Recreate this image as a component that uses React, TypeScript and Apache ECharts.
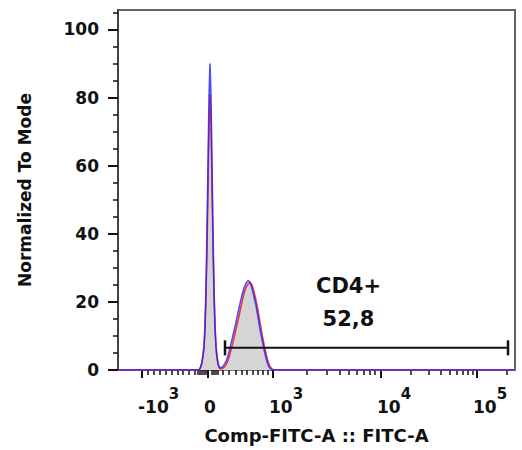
import { useEffect, useRef } from 'react';
import * as echarts from 'echarts';

// Display-channel positions (biexponential axis, 0..397 display units)
const X = [0, 81, 82, 83, 84, 85, 86, 87, 88, 89, 90, 91, 92, 93, 94, 95, 96, 97, 98, 99, 100, 101, 102,
  104, 106, 108, 110, 112, 114, 116, 118, 120, 122, 124, 126, 128, 130, 132, 134, 136, 138, 140, 142,
  144, 146, 148, 150, 152, 154, 156, 158, 397];

const GRAY = [0, 0, 0.4, 1, 2.2, 4, 6.5, 12, 22, 36, 54, 71, 80, 72, 54, 36, 22, 12.5, 6.5, 3.5, 1.8, 0.8, 0.4,
  0.4, 0.8, 1.5, 2.8, 4.8, 7, 9.5, 12, 14.5, 17.2, 20, 22.5, 24.2, 25.2, 25.5, 24.8, 22.8, 20.3, 17.3, 14,
  10.5, 7.5, 4.8, 2.5, 1, 0.3, 0, 0, 0];

const RED = [0, 0, 0.4, 1, 2.2, 4, 6.5, 12, 22, 36, 54, 72, 81, 73, 55, 37, 22, 12.5, 6.5, 3.5, 1.8, 0.8, 0.4,
  0.4, 0.8, 1.5, 2.8, 4.8, 7, 9.5, 12, 14.5, 17.2, 20, 22.5, 24.3, 25.3, 25.7, 25, 23, 20.5, 17.5, 14,
  10.5, 7.5, 4.8, 2.5, 1, 0.3, 0, 0, 0];

const BLUE = [0, 0, 0.5, 1.2, 2.5, 4.5, 7, 13, 24, 40, 60, 80, 90, 80, 60, 40, 24, 13, 7, 4, 2, 1, 0.6,
  0.8, 1.5, 2.5, 4.2, 6.5, 9, 11.5, 14, 16.8, 19.5, 22, 24, 25.5, 26.2, 25.8, 24, 21.5, 19, 15.5, 12,
  9, 6, 3.5, 1.5, 0.5, 0, 0, 0, 0];

// Axis ticks (display units) and labels
const X_MAJOR_TICKS = [24, 90, 155, 263, 359];
const X_MAJOR_LABELS: [string, string][] = [['-10', '3'], ['0', ''], ['10', '3'], ['10', '4'], ['10', '5']];
const X_MINOR_TICKS = [30, 36, 42, 48, 54, 60, 65, 71, 77, 80, 82, 84, 86, 88, 94, 96, 98, 100,
  105, 111, 118, 124, 129, 135, 140, 145, 150,
  189, 209, 222, 231, 239, 246, 252, 257,
  293, 311, 323, 332, 339, 345, 350, 355, 389];
const Y_MAJOR = [0, 20, 40, 60, 80, 100];
const Y_MINOR = [5, 10, 15, 25, 30, 35, 45, 50, 55, 65, 70, 75, 85, 90, 95, 105];

const GATE_RANGE = [107, 390];
const GATE_LEVEL = 6.5;
const GATE_NAME = 'CD4+';
const GATE_PERCENT = '52,8';

const FONT = 'DejaVu Sans';

export default function App() {
  const ref = useRef<HTMLDivElement>(null);
  useEffect(() => {
    if (!ref.current) return;
    const chart = echarts.init(ref.current, null, { renderer: 'svg' });
    const xMin = 0, xMax = 397, yMin = 0, yMax = 105.7;
    const labelShift = 4;
    const toPairs = (ys: number[]) => X.map((x, i) => [x, ys[i]]);
    const textColor = '#111111';
    chart.setOption({
      animation: false,
      backgroundColor: '#ffffff',
      grid: {
        left: 118, right: 7, top: 10, bottom: 80,
        containLabel: false, outerBoundsMode: 'none',
        show: true, borderColor: '#666', borderWidth: 2, backgroundColor: 'transparent',
      },
      xAxis: [
        {
          type: 'value', min: xMin, max: xMax, position: 'bottom',
          name: 'Comp-FITC-A :: FITC-A', nameLocation: 'middle', nameGap: 56,
          nameTextStyle: { fontFamily: FONT, fontWeight: 'bold', fontSize: 18, color: textColor },
          splitLine: { show: false },
          axisLine: { show: true, onZero: false, lineStyle: { color: '#8a70b0', width: 1.5 } },
          axisTick: { show: true, customValues: X_MAJOR_TICKS, length: 8, lineStyle: { color: '#111', width: 2 } },
          axisLabel: {
            show: true,
            customValues: X_MAJOR_TICKS.map((t) => t - labelShift),
            align: 'left',
            margin: 22,
            formatter: (value: number) => {
              let idx = 0;
              X_MAJOR_TICKS.forEach((t, i) => { if (Math.abs(t - labelShift - value) < 0.5) idx = i; });
              const [b, s] = X_MAJOR_LABELS[idx];
              return s ? `{b|${b}}{s|${s}}` : `{b|${b}}`;
            },
            rich: {
              b: { fontFamily: FONT, fontWeight: 'bold', fontSize: 17, lineHeight: 18, padding: [11, 0, 0, 0], color: textColor },
              s: { fontFamily: FONT, fontWeight: 'bold', fontSize: 15, lineHeight: 15, padding: [0, 0, 14, 0], color: textColor },
            },
          },
        },
        {
          type: 'value', min: xMin, max: xMax, position: 'bottom',
          splitLine: { show: false },
          axisLine: { show: false, onZero: false },
          axisTick: { show: true, customValues: X_MINOR_TICKS, length: 5, lineStyle: { color: '#111', width: 1.5 } },
          axisLabel: { show: false },
        },
      ],
      yAxis: [
        {
          type: 'value', min: yMin, max: yMax, position: 'left',
          name: 'Normalized To Mode', nameLocation: 'middle', nameGap: 85,
          nameTextStyle: { fontFamily: FONT, fontWeight: 'bold', fontSize: 17, color: textColor },
          splitLine: { show: false },
          axisLine: { show: true, onZero: false, lineStyle: { color: '#444', width: 2 } },
          axisTick: { show: true, customValues: Y_MAJOR, length: 10, lineStyle: { color: '#111', width: 2 } },
          axisLabel: {
            show: true, customValues: Y_MAJOR, margin: 19,
            fontFamily: FONT, fontWeight: 'bold', fontSize: 17, color: textColor,
          },
        },
        {
          type: 'value', min: yMin, max: yMax, position: 'left',
          splitLine: { show: false },
          axisLine: { show: false, onZero: false },
          axisTick: { show: true, customValues: Y_MINOR, length: 5, lineStyle: { color: '#111', width: 1.5 } },
          axisLabel: { show: false },
        },
      ],
      series: [
        {
          type: 'line', name: 'gray', xAxisIndex: 0, yAxisIndex: 0, data: toPairs(GRAY),
          showSymbol: false, symbol: 'none',
          lineStyle: { color: '#a0a0a0', width: 1 },
          areaStyle: { color: '#d5d5d5', opacity: 1 },
          z: 2,
        },
        {
          type: 'line', name: 'red', xAxisIndex: 0, yAxisIndex: 0, data: toPairs(RED),
          showSymbol: false, symbol: 'none',
          lineStyle: { color: '#ff2020', width: 1.6, opacity: 0.85 },
          z: 3,
        },
        {
          type: 'line', name: 'blue', xAxisIndex: 0, yAxisIndex: 0, data: toPairs(BLUE),
          showSymbol: false, symbol: 'none',
          lineStyle: { color: '#2020ff', width: 1.6, opacity: 0.8 },
          z: 4,
        },
        {
          type: 'line', name: 'gate', xAxisIndex: 0, yAxisIndex: 0,
          data: [[GATE_RANGE[0], GATE_LEVEL], [GATE_RANGE[1], GATE_LEVEL]],
          symbol: 'rect', symbolSize: [2.5, 15], showSymbol: true,
          itemStyle: { color: '#111' },
          lineStyle: { color: '#111', width: 2 },
          z: 5,
        },
        {
          type: 'scatter', name: 'gateText', xAxisIndex: 0, yAxisIndex: 0,
          data: [
            [(GATE_RANGE[0] + GATE_RANGE[1]) / 2 - 18, 24.8, GATE_NAME],
            [(GATE_RANGE[0] + GATE_RANGE[1]) / 2 - 18, 15.0, GATE_PERCENT],
          ],
          symbolSize: 0,
          itemStyle: { color: '#111' },
          label: {
            show: true, position: 'inside',
            formatter: (p: any) => p.data[2],
            fontFamily: FONT, fontWeight: 'bold', fontSize: 21, color: textColor,
            textBorderWidth: 0, opacity: 1,
          },
          z: 6,
        },
      ],
    });
    return () => chart.dispose();
  }, []);
  return <div ref={ref} style={{ position: 'fixed', left: 0, top: 0, width: 522, height: 450 }} />;
}
